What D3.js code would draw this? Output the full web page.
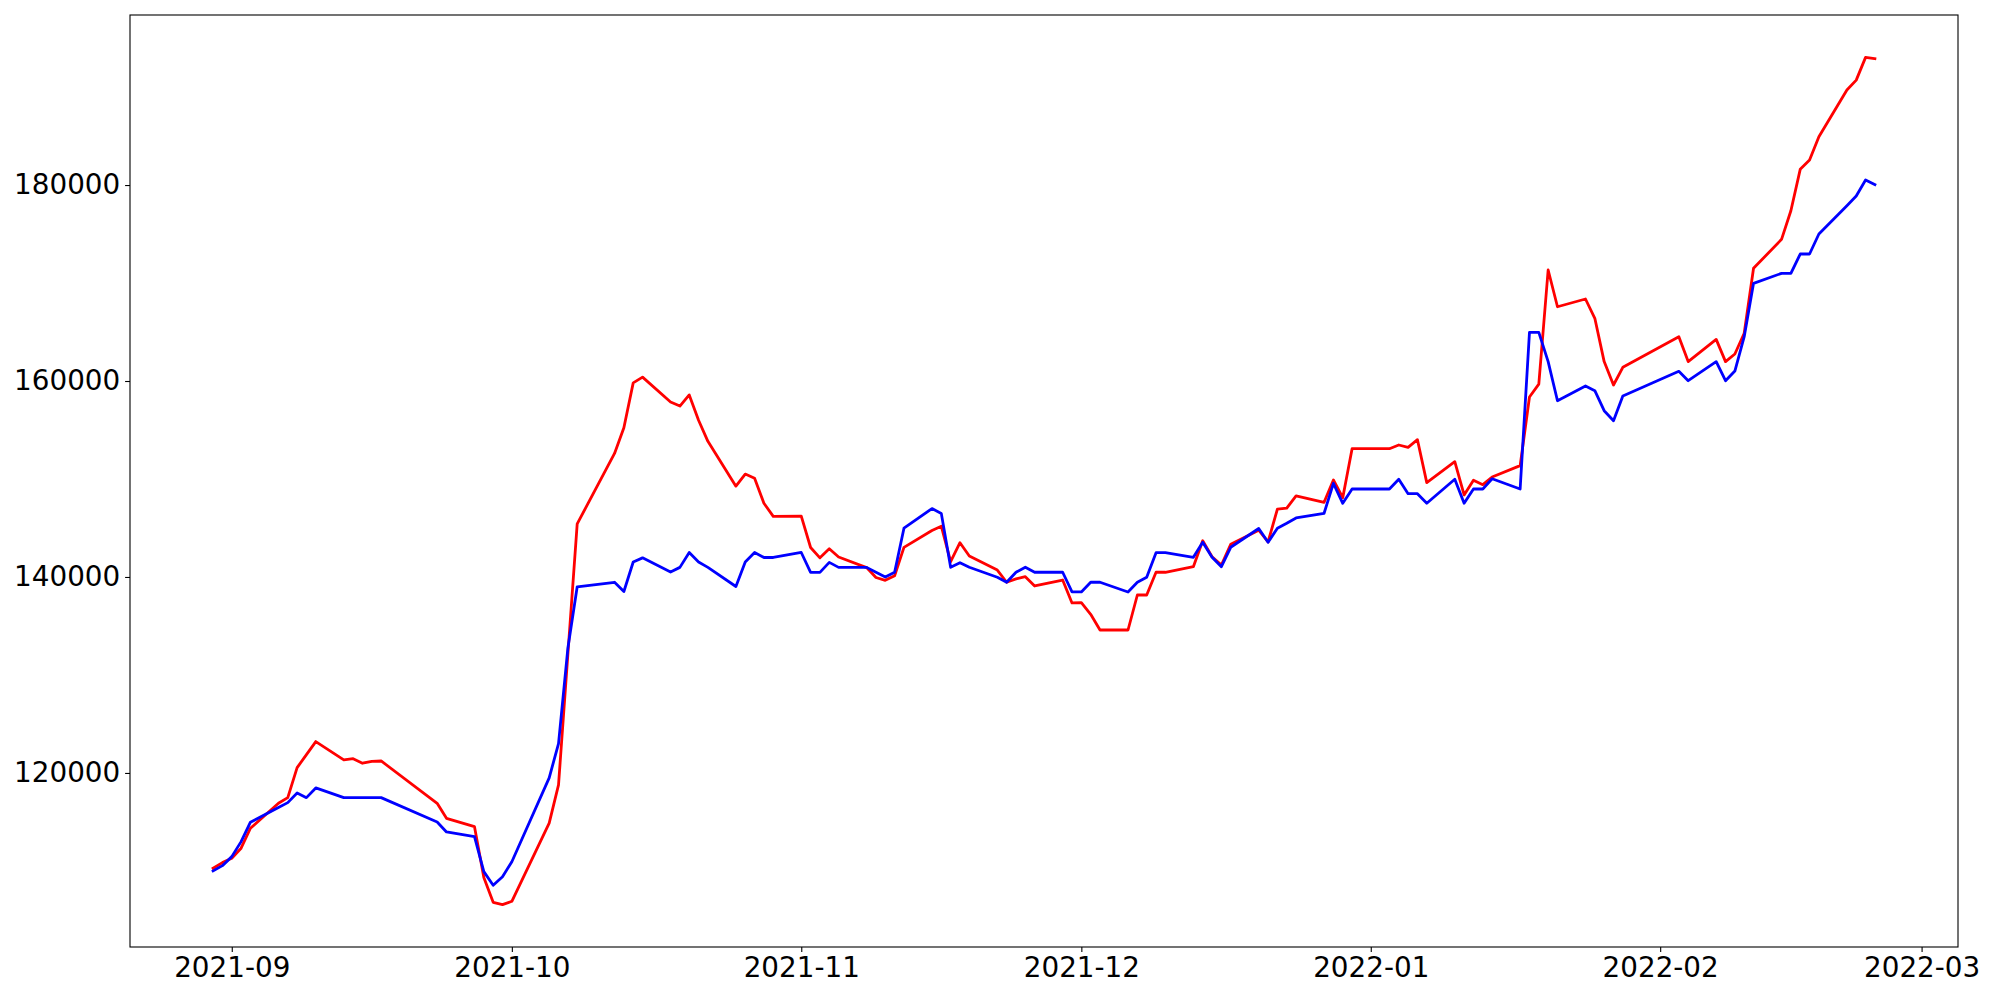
<!DOCTYPE html>
<html>
<head>
<meta charset="utf-8">
<script src="https://cdn.jsdelivr.net/npm/d3@7"></script>
<style>
  html, body { margin: 0; padding: 0; background: #fff; }
  svg { display: block; }
  text { font-family: "DejaVu Sans", sans-serif; }
</style>
</head>
<body>
<svg id="chart" width="2000" height="1000"></svg>
<script>
const dates = [
  "2021-08-30","2021-08-31","2021-09-01","2021-09-02","2021-09-03",
  "2021-09-06","2021-09-07","2021-09-08","2021-09-09","2021-09-10",
  "2021-09-13","2021-09-14","2021-09-15","2021-09-16","2021-09-17",
  "2021-09-23","2021-09-24","2021-09-27","2021-09-28","2021-09-29","2021-09-30",
  "2021-10-01","2021-10-05","2021-10-06","2021-10-07","2021-10-08",
  "2021-10-12","2021-10-13","2021-10-14","2021-10-15",
  "2021-10-18","2021-10-19","2021-10-20","2021-10-21","2021-10-22",
  "2021-10-25","2021-10-26","2021-10-27","2021-10-28","2021-10-29",
  "2021-11-01","2021-11-02","2021-11-03","2021-11-04","2021-11-05",
  "2021-11-08","2021-11-09","2021-11-10","2021-11-11","2021-11-12",
  "2021-11-15","2021-11-16","2021-11-17","2021-11-18","2021-11-19",
  "2021-11-22","2021-11-23","2021-11-24","2021-11-25","2021-11-26",
  "2021-11-29","2021-11-30","2021-12-01","2021-12-02","2021-12-03",
  "2021-12-06","2021-12-07","2021-12-08","2021-12-09","2021-12-10",
  "2021-12-13","2021-12-14","2021-12-15","2021-12-16","2021-12-17",
  "2021-12-20","2021-12-21","2021-12-22","2021-12-23","2021-12-24",
  "2021-12-27","2021-12-28","2021-12-29","2021-12-30",
  "2022-01-03","2022-01-04","2022-01-05","2022-01-06","2022-01-07",
  "2022-01-10","2022-01-11","2022-01-12","2022-01-13","2022-01-14",
  "2022-01-17","2022-01-18","2022-01-19","2022-01-20","2022-01-21",
  "2022-01-24","2022-01-25","2022-01-26","2022-01-27","2022-01-28",
  "2022-02-03","2022-02-04",
  "2022-02-07","2022-02-08","2022-02-09","2022-02-10","2022-02-11",
  "2022-02-14","2022-02-15","2022-02-16","2022-02-17","2022-02-18",
  "2022-02-21","2022-02-22","2022-02-23","2022-02-24"
];

const redValues = [
  110275,110850,111290,112320,114360,
  116900,117480,120540,121870,123200,
  121330,121460,120990,121190,121220,
  116900,115370,114520,109320,106800,106560,
  106900,114880,118780,132090,145420,
  152610,155230,159810,160400,
  157860,157440,158580,156000,153840,
  149270,150500,150070,147530,146180,
  146220,143010,141950,142880,142040,
  140960,139950,139660,140130,143020,
  144750,145180,141560,143500,142140,
  140700,139460,139800,140030,139080,
  139690,137350,137380,136190,134590,
  134590,138160,138160,140480,140480,
  141050,143700,142070,141220,143340,
  144780,143570,146920,147020,148280,
  147620,149900,148090,153090,
  153090,153470,153230,154010,149630,
  151770,148370,149870,149420,150200,
  151360,158370,159680,171330,167580,
  168370,166400,161980,159590,161400,
  164520,161980,
  164250,161980,162760,164870,171500,
  174460,177380,181600,182550,184930,
  189700,190710,193030,192890
];

const blueValues = [
  110000,110540,111460,112990,114970,
  116470,116970,117960,117480,118470,
  117480,117480,117480,117480,117480,
  115000,113980,113500,109930,108540,109400,
  110940,119500,123000,132720,139000,
  139460,138520,141530,141950,
  140510,140980,142500,141530,140980,
  139030,141530,142500,141990,141990,
  142500,140470,140470,141490,140980,
  140980,140480,140000,140480,144980,
  146980,146490,140990,141460,140990,
  139970,139460,140480,140990,140480,
  140480,138470,138470,139460,139460,
  138470,139460,139970,142480,142480,
  142010,143540,142010,141050,143030,
  144950,143540,144970,145480,146020,
  146500,149560,147520,148980,
  148980,149970,148500,148500,147520,
  149970,147520,148980,148980,150030,
  148980,164970,164970,161980,157990,
  159490,159010,156970,155950,158470,
  160990,160030,
  161980,160030,161020,164520,169970,
  170990,170990,172960,172960,175000,
  177890,178880,180510,180030
];

const yTickValues = [120000, 140000, 160000, 180000];
const xTickLabels = ["2021-09","2021-10","2021-11","2021-12","2022-01","2022-02","2022-03"];

const parse = d3.timeParse("%Y-%m-%d");
const parseMonth = d3.timeParse("%Y-%m");
const X = dates.map(parse);

const margin = { left: 130, right: 42, top: 15, bottom: 53 };
const W = 2000, H = 1000;
const plotW = W - margin.left - margin.right;
const plotH = H - margin.top - margin.bottom;

const svg = d3.select("#chart");
const g = svg.append("g").attr("transform", `translate(${margin.left},${margin.top})`);

// x domain with 5% padding (matplotlib default margins)
const xExt = d3.extent(X);
const xSpan = xExt[1] - xExt[0];
const x = d3.scaleTime()
  .domain([new Date(+xExt[0] - 0.05 * xSpan), new Date(+xExt[1] + 0.05 * xSpan)])
  .range([0, plotW]);

const allVals = redValues.concat(blueValues);
const yMin = d3.min(allVals), yMax = d3.max(allVals);
const ySpan = yMax - yMin;
const y = d3.scaleLinear()
  .domain([yMin - 0.05 * ySpan, yMax + 0.05 * ySpan])
  .range([plotH, 0]);

const line = d3.line()
  .x((d, i) => x(X[i]))
  .y(d => y(d));

g.append("path").datum(redValues)
  .attr("fill", "none").attr("stroke", "#ff0000")
  .attr("stroke-width", 2.8).attr("stroke-linejoin", "round").attr("stroke-linecap", "square")
  .attr("d", line);

g.append("path").datum(blueValues)
  .attr("fill", "none").attr("stroke", "#0000ff")
  .attr("stroke-width", 2.8).attr("stroke-linejoin", "round").attr("stroke-linecap", "square")
  .attr("d", line);

// frame
g.append("rect").attr("x", 0).attr("y", 0).attr("width", plotW).attr("height", plotH)
  .attr("fill", "none").attr("stroke", "#000").attr("stroke-width", 1.1);

const fontSize = 27.8;

// x axis
const xAxis = d3.axisBottom(x)
  .tickValues(xTickLabels.map(parseMonth))
  .tickFormat(d3.timeFormat("%Y-%m"))
  .tickSize(4.9).tickPadding(4.9);
const gx = g.append("g").attr("transform", `translate(0,${plotH})`).call(xAxis);
gx.select(".domain").remove();
gx.selectAll(".tick line").attr("stroke", "#000").attr("stroke-width", 1.1);
gx.selectAll(".tick text").attr("font-size", fontSize).attr("fill", "#000")
  .attr("font-family", "DejaVu Sans");

// y axis
const yAxis = d3.axisLeft(y)
  .tickValues(yTickValues)
  .tickFormat(d3.format("d"))
  .tickSize(4.9).tickPadding(4.9);
const gy = g.append("g").call(yAxis);
gy.select(".domain").remove();
gy.selectAll(".tick line").attr("stroke", "#000").attr("stroke-width", 1.1);
gy.selectAll(".tick text").attr("font-size", fontSize).attr("fill", "#000")
  .attr("font-family", "DejaVu Sans");
</script>
</body>
</html>
